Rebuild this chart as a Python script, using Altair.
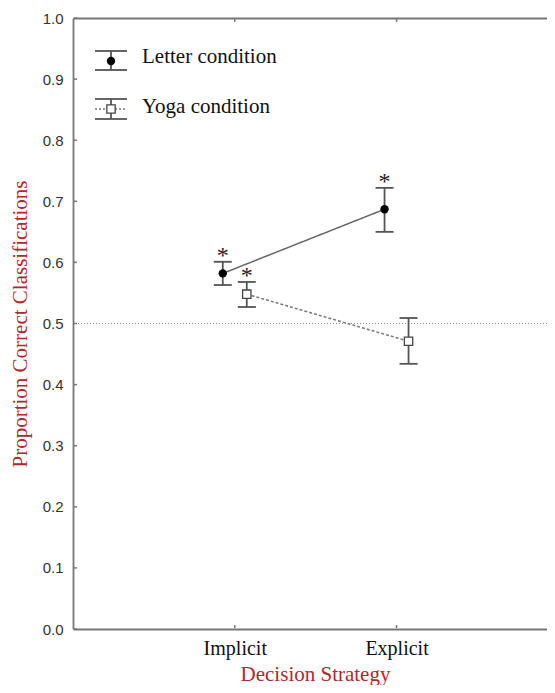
import altair as alt
import pandas as pd

# ---- data ----
strategies = ["Implicit", "Explicit"]
conditions = ["Letter condition", "Yoga condition"]
letter_mean = [0.582, 0.687]
letter_lo = [0.563, 0.650]
letter_hi = [0.601, 0.722]
yoga_mean = [0.548, 0.471]
yoga_lo = [0.527, 0.434]
yoga_hi = [0.568, 0.509]
letter_sig = ["*", "*"]
yoga_sig = ["*", ""]
chance_level = [0.5]
y_ticks = [0.0, 0.1, 0.2, 0.3, 0.4, 0.5, 0.6, 0.7, 0.8, 0.9, 1.0]

positions = list(range(1, len(strategies) + 1))

W, H = 474, 611
SERIF = "Liberation Serif"
SANS = "Liberation Sans"
RED = "#b0282d"
GREY = "#555555"
AXIS_GREY = "#777777"

def frame(mean, lo, hi, sig):
    return pd.DataFrame({"strategy": strategies, "pos": positions,
                         "mean": mean, "lo": lo, "hi": hi, "sig": sig})

letter_df = frame(letter_mean, letter_lo, letter_hi, letter_sig)
yoga_df = frame(yoga_mean, yoga_lo, yoga_hi, yoga_sig)

XMAX = 2.93
xscale = alt.Scale(domain=[0, XMAX], nice=False, zero=False)
yscale = alt.Scale(domain=[y_ticks[0], y_ticks[-1]], nice=False, zero=True)

label_expr = " : ".join(
    [f"datum.value == {p} ? '{s}'" for p, s in zip(positions, strategies)]) + " : ''"

X_main = alt.X("pos:Q", scale=xscale,
               axis=alt.Axis(title="Decision Strategy", values=positions, labelExpr=label_expr,
                             orient="bottom", ticks=False, grid=False, domain=True,
                             domainColor=AXIS_GREY, domainWidth=1.8, labelAngle=0,
                             labelFont=SERIF, labelFontSize=20, labelColor="#111111",
                             labelPadding=9, labelFlush=False, labelOverlap=False,
                             titleFont=SERIF, titleFontSize=21,
                             titleFontWeight="normal", titleColor=RED,
                             titleBaseline="alphabetic", titleY=51,
                             titleX=242))
X_top = alt.X("pos:Q", scale=xscale,
              axis=alt.Axis(title=None, orient="top", values=positions, labels=False,
                            ticks=False, grid=False, domain=True,
                            domainColor=AXIS_GREY, domainWidth=1.8))
Y_main = alt.Y("mean:Q", scale=yscale,
               axis=alt.Axis(title="Proportion Correct Classifications", values=y_ticks,
                             format=".1f", ticks=False, grid=False, domain=True,
                             domainColor=AXIS_GREY, domainWidth=1.8,
                             labelFont=SANS, labelFontSize=15, labelColor="#333333",
                             labelPadding=10, labelFlush=False, labelOverlap=False,
                             titleFont=SERIF, titleFontSize=21,
                             titleFontWeight="normal", titleColor=RED, titlePadding=12))

def xq():
    return alt.X("pos:Q", scale=xscale)

def series_layers(df, off, solid, filled_shape):
    base = alt.Chart(df)
    line = base.mark_line(
        xOffset=off, color="#666666" if solid else "#777777", strokeWidth=1.5,
        strokeDash=[1, 0] if solid else [3, 2]
    ).encode(x=xq(), y=alt.Y("mean:Q", scale=yscale))
    bar = base.mark_rule(xOffset=off, color=GREY, strokeWidth=1.8).encode(
        x=xq(), y=alt.Y("lo:Q", scale=yscale), y2="hi:Q")
    # caps drawn as horizontal rules centred on the dodged position
    cap_lo = base.mark_rule(color=GREY, strokeWidth=1.8, xOffset=off - 9, x2Offset=off + 9).encode(
        x=xq(), x2="pos:Q", y=alt.Y("lo:Q", scale=yscale))
    cap_hi = base.mark_rule(color=GREY, strokeWidth=1.8, xOffset=off - 9, x2Offset=off + 9).encode(
        x=xq(), x2="pos:Q", y=alt.Y("hi:Q", scale=yscale))
    if filled_shape:
        pt = base.mark_point(xOffset=off, shape="circle", filled=True, color="#000000",
                             size=70, opacity=1).encode(x=xq(), y=alt.Y("mean:Q", scale=yscale))
    else:
        pt = base.mark_point(xOffset=off, shape="square", filled=True, fill="#ffffff",
                             stroke="#444444", strokeWidth=1.3, size=70, opacity=1).encode(
            x=xq(), y=alt.Y("mean:Q", scale=yscale))
    star = base.mark_text(xOffset=off, font=SERIF, fontSize=24, color="#222222",
                          baseline="alphabetic", dy=1).encode(
        x=xq(), y=alt.Y("hi:Q", scale=yscale), text="sig:N")
    return [line, bar, cap_lo, cap_hi, pt, star]

# axes carrier
axes_layer = alt.Chart(letter_df).mark_point(opacity=0).encode(x=X_main, y=Y_main)

chance = alt.Chart(pd.DataFrame({"y": chance_level})).mark_rule(
    color="#888888", strokeDash=[1, 2], strokeWidth=1).encode(y=alt.Y("y:Q", scale=yscale))

# small inward ticks
tick_df = pd.DataFrame({"t": y_ticks})
ytick = alt.Chart(tick_df).mark_rule(color=AXIS_GREY, strokeWidth=1.5).encode(
    y=alt.Y("t:Q", scale=yscale), x=alt.value(1), x2=alt.value(4))
sdf = pd.DataFrame({"pos": positions})
xtick_b = alt.Chart(sdf).mark_rule(color=AXIS_GREY, strokeWidth=1.5).encode(
    x=xq(), y=alt.value(H - 1), y2=alt.value(H - 4))
xtick_t = alt.Chart(sdf).mark_rule(color=AXIS_GREY, strokeWidth=1.5).encode(
    x=xq(), y=alt.value(1), y2=alt.value(4))

# manual legend
def legend_rows(label, ytop, ybot, ymid, ytext, filled_shape):
    d = pd.DataFrame({"label": [label]})
    b = alt.Chart(d)
    layers = [
        b.mark_rule(color=GREY, strokeWidth=1.8).encode(x=alt.value(22), x2=alt.value(54), y=alt.value(ytop)),
        b.mark_rule(color=GREY, strokeWidth=1.8).encode(x=alt.value(22), x2=alt.value(54), y=alt.value(ybot)),
        b.mark_rule(color=GREY, strokeWidth=1.8).encode(x=alt.value(38), y=alt.value(ytop), y2=alt.value(ybot)),
    ]
    if filled_shape:
        layers.append(b.mark_point(shape="circle", filled=True, color="#000000", size=70, opacity=1)
                      .encode(x=alt.value(38), y=alt.value(ymid)))
    else:
        layers.append(b.mark_rule(color="#777777", strokeWidth=1.3, strokeDash=[2, 2])
                      .encode(x=alt.value(22), x2=alt.value(54), y=alt.value(ymid)))
        layers.append(b.mark_point(shape="square", filled=True, fill="#ffffff", stroke="#444444",
                                   strokeWidth=1.3, size=70, opacity=1)
                      .encode(x=alt.value(38), y=alt.value(ymid)))
    layers.append(b.mark_text(font=SERIF, fontSize=21, color="#111111", align="left",
                              baseline="alphabetic").encode(
        x=alt.value(69), y=alt.value(ytext), text="label:N"))
    return layers

layers = [axes_layer, chance, ytick, xtick_b, xtick_t]
layers += series_layers(letter_df, -12, True, True)
layers += series_layers(yoga_df, 12, False, False)
layers += legend_rows(conditions[0], 33, 52, 43, 45, True)
layers += legend_rows(conditions[1], 81, 101, 91, 95, False)

inner = alt.layer(*layers)
# top frame line: a second, label-less x axis on top
top_axis = alt.Chart(sdf).mark_rule(opacity=0).encode(x=X_top)

chart = alt.layer(inner, top_axis).resolve_axis(x="independent").properties(
    width=W, height=H,
    autosize=alt.AutoSizeParams(type="none"),
    padding={"left": 65, "top": 10, "right": 0, "bottom": 56},
).configure_view(stroke=None).configure_axis(grid=False)

chart.save("out.html", embed_options={"renderer": "svg", "actions": False})
